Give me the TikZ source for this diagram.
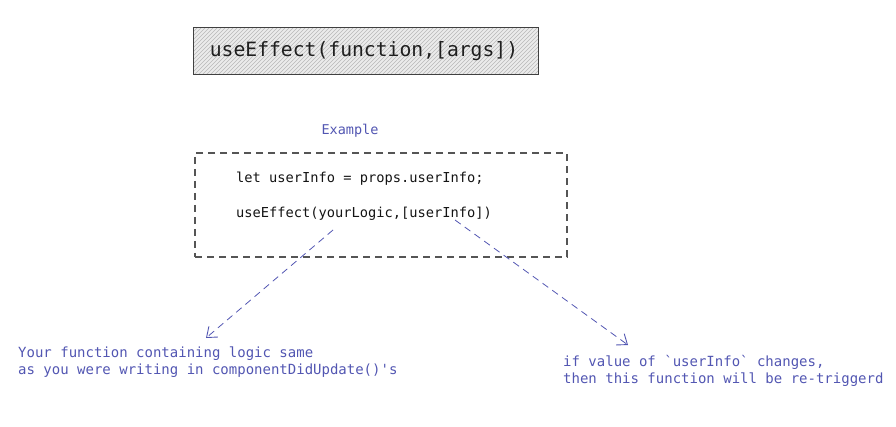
\documentclass[tikz,border=0pt]{standalone}
\usepackage{fontspec}
\setmonofont{DejaVu Sans Mono}
\usetikzlibrary{arrows.meta}
\definecolor{inkblue}{RGB}{82,86,178}
\definecolor{boxgrey}{RGB}{85,85,85}
\tikzset{
  titlebox/.style={draw=black!75, line width=1pt, minimum width=345pt, minimum height=47pt, inner sep=0pt},
  hatch/.style={draw=black!28, line width=0.6pt},
  codebox/.style={draw=boxgrey, line width=1.2pt, dash pattern=on 7pt off 5pt, minimum width=372pt, minimum height=104pt, inner sep=0pt},
  bluetxt/.style={text=inkblue, font=\ttfamily\fontsize{14}{17}\selectfont, inner sep=0pt, align=left},
  codetxt/.style={text=black!92, font=\ttfamily\fontsize{13.7}{16}\selectfont, inner sep=0pt, anchor=west},
  bluearrow/.style={draw=inkblue, line width=0.8pt, dash pattern=on 7pt off 5pt, -{Straight Barb[length=9pt,width=14pt,line width=0.9pt]}},
}
\begin{document}
\begin{tikzpicture}[x=1pt,y=-1pt]
\useasboundingbox (0,0) rectangle (896,427);
\fill[black!8] (193,28) rectangle (538,75);
\begin{scope}
  \clip (193,28) rectangle (538,75);
  \foreach \i in {146,150,...,540} \draw[hatch] (\i,75) -- ++(47,-47);
\end{scope}
\node[titlebox] (title) at (365.5,51.5) {};
\node[inner sep=0pt, text=black!88, font=\ttfamily\fontsize{19.7}{22}\selectfont] (titletext) at (364,51) {useEffect(function,[args])};
\node[bluetxt, font=\ttfamily\fontsize{13.5}{16}\selectfont] (example) at (350,131) {Example};
\node[codebox] (box) at (381,205) {};
\node[codetxt] (code1) at (236,179) {let userInfo = props.userInfo;};
\node[codetxt] (code2) at (236,214) {useEffect(yourLogic,[userInfo])};
\coordinate (s1) at (333,230);
\coordinate (e1) at (206,338);
\coordinate (s2) at (455,220);
\coordinate (e2) at (628,345);
\node[bluetxt, anchor=north west] (left) at (18,347) {Your function containing logic same\\as you were writing in componentDidUpdate()'s};
\node[bluetxt, anchor=north west] (right) at (563,355) {if value of `userInfo` changes,\\then this function will be re-triggerd};
\draw[bluearrow] (s1) -- (e1);
\draw[bluearrow] (s2) -- (e2);
\end{tikzpicture}
\end{document}
